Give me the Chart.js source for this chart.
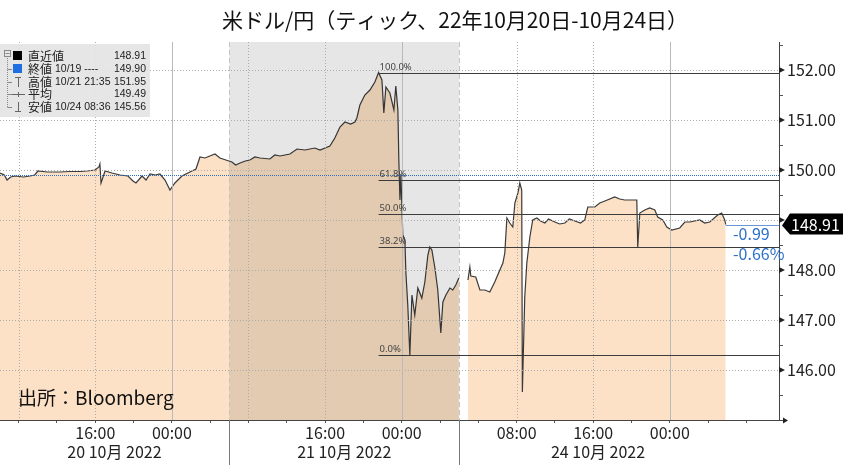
<!DOCTYPE html>
<html>
<head>
<meta charset="utf-8">
<script src="https://cdn.jsdelivr.net/npm/chart.js@4.4.1/dist/chart.umd.min.js"></script>
<style>
html, body { margin: 0; padding: 0; background: #fff; }
#wrap { width: 843px; height: 465px; }
</style>
</head>
<body>
<div id="wrap"><canvas id="fxChart"></canvas></div>
<script>
// ティックデータ（読み取り値）: 時刻と USD/JPY
const times = [
  '10/20 06:03', '10/20 06:30', '10/20 06:47', '10/20 07:10', '10/20 07:37', '10/20 08:30', '10/20 09:11', '10/20 09:40',
  '10/20 10:01', '10/20 11:00', '10/20 12:19', '10/20 13:20', '10/20 14:25', '10/20 15:10', '10/20 15:58', '10/20 16:23',
  '10/20 16:29', '10/20 16:36', '10/20 17:01', '10/20 17:45', '10/20 18:35', '10/20 19:25', '10/20 19:56', '10/20 20:15',
  '10/20 20:53', '10/20 21:18', '10/20 21:43', '10/20 22:15', '10/20 22:45', '10/20 23:17', '10/20 23:48', '10/21 00:19',
  '10/21 01:03', '10/21 01:53', '10/21 02:31', '10/21 02:56', '10/21 03:27', '10/21 03:58', '10/21 04:30', '10/21 05:01',
  '10/21 05:38', '10/21 06:16', '10/21 06:40', '10/21 07:07', '10/21 07:40', '10/21 08:09', '10/21 08:40', '10/21 09:12',
  '10/21 10:14', '10/21 10:45', '10/21 11:17', '10/21 12:20',
  '10/21 13:04', '10/21 13:54', '10/21 14:56', '10/21 15:28', '10/21 16:30', '10/21 17:01', '10/21 17:33', '10/21 18:04',
  '10/21 18:40', '10/21 19:07', '10/21 19:19', '10/21 19:38', '10/21 20:09', '10/21 20:41', '10/21 21:12', '10/21 21:35',
  '10/21 21:56', '10/21 22:08', '10/21 22:21', '10/21 22:46', '10/21 23:11', '10/21 23:23', '10/21 23:36', '10/21 23:42',
  '10/21 23:49', '10/21 23:55', '10/22 00:07', '10/22 00:20', '10/22 00:26', '10/22 00:38', '10/22 00:51', '10/22 01:04',
  '10/22 01:22', '10/22 01:41', '10/22 02:06', '10/22 02:25', '10/22 02:44', '10/22 02:56', '10/22 03:09', '10/22 03:28',
  '10/22 03:46', '10/22 04:05', '10/22 04:18', '10/22 04:37', '10/22 05:02', '10/22 05:20', '10/22 05:39', '10/22 05:58',
  '10/22 06:30',
  '10/24 02:55', '10/24 03:07', '10/24 03:13', '10/24 03:44', '10/24 04:10', '10/24 04:41', '10/24 05:12', '10/24 05:43',
  '10/24 06:15', '10/24 06:34', '10/24 06:46', '10/24 06:59', '10/24 07:17', '10/24 07:36', '10/24 07:49', '10/24 08:08',
  '10/24 08:20', '10/24 08:32', '10/24 08:36', '10/24 08:51', '10/24 09:04', '10/24 09:23', '10/24 09:41', '10/24 10:07',
  '10/24 10:30', '10/24 10:57', '10/24 11:20', '10/24 11:59', '10/24 12:30', '10/24 13:02', '10/24 13:30', '10/24 14:05',
  '10/24 14:40', '10/24 15:07', '10/24 15:26', '10/24 16:10', '10/24 16:41',
  '10/24 17:13', '10/24 18:15', '10/24 18:46', '10/24 19:17', '10/24 20:33', '10/24 20:39', '10/24 20:52', '10/24 21:23',
  '10/24 21:54', '10/24 22:26', '10/24 22:44', '10/24 23:16', '10/24 23:41', '10/25 00:12', '10/25 01:02', '10/25 01:34',
  '10/25 02:05', '10/25 03:07', '10/25 03:39', '10/25 04:10', '10/25 05:00', '10/25 05:25', '10/25 05:44', '10/25 05:50'
];
const prices = [
  149.94, 149.90, 149.80, 149.86, 149.88, 149.86, 149.88, 149.90,
  149.98, 149.96, 149.96, 149.97, 149.97, 149.98, 150.00, 150.06,
  150.12, 149.74, 149.98, 149.94, 149.90, 149.88, 149.78, 149.74,
  149.88, 149.80, 149.92, 149.90, 149.92, 149.80, 149.60, 149.74,
  149.88, 149.96, 150.02, 150.26, 150.24, 150.28, 150.32, 150.24,
  150.20, 150.16, 150.10, 150.14, 150.18, 150.20, 150.26, 150.24,
  150.22, 150.30, 150.28, 150.32,
  150.42, 150.40, 150.44, 150.40, 150.48, 150.64, 150.86, 150.96,
  150.92, 150.96, 151.04, 151.30, 151.50, 151.60, 151.76, 151.95,
  151.80, 151.14, 151.66, 151.54, 151.20, 151.68, 151.20, 150.20,
  149.40, 149.90, 148.70, 148.60, 147.96, 147.30, 146.30, 147.50,
  147.10, 147.64, 147.44, 147.76, 148.30, 148.46, 148.40, 148.04,
  147.60, 146.74, 147.36, 147.50, 147.64, 147.60, 147.70, 147.84,
  null,
  147.80, 148.06, 147.88, 147.86, 147.60, 147.60, 147.56, 147.76,
  148.00, 148.14, 148.34, 149.04, 148.94, 148.86, 149.34, 149.54,
  149.74, 149.60, 145.56, 147.46, 148.14, 148.66, 149.00, 149.04,
  148.98, 148.94, 149.02, 148.96, 148.92, 148.94, 149.02, 148.98,
  148.94, 149.00, 149.26, 149.26, 149.34,
  149.38, 149.46, 149.42, 149.40, 149.40, 148.46, 149.14, 149.20,
  149.24, 149.20, 149.06, 149.00, 148.86, 148.80, 148.84, 148.96,
  148.96, 149.00, 148.94, 148.96, 149.10, 149.14, 149.00, 148.91
];

// セッション（日付ラベルの範囲）
const dateLabels = ['20 10月 2022', '21 10月 2022', '24 10月 2022'];
const sessions = [['10/20 06:00', '10/21 06:00'], ['10/21 06:00', '10/22 06:00'], ['10/24 02:00', '10/25 07:00']];
const axisRange = ['10/20 06:03', '10/25 11:24'];

// 軸目盛り
const xLabelTimes = ['10/20 16:00', '10/21 00:00', '10/21 16:00', '10/22 00:00', '10/24 08:00', '10/24 16:00', '10/25 00:00'];
const xDottedTimes = ['10/20 08:00', '10/20 16:00', '10/21 08:00', '10/21 16:00', '10/24 08:00', '10/24 16:00'];
const xMidnightTimes = ['10/21 00:00', '10/22 00:00', '10/25 00:00'];
const yTickValues = [146, 147, 148, 149, 150, 151, 152];
const yRange = [145, 152.56];

// 統計・フィボナッチ
const lastPrice = 148.91;
const prevClose = 149.90;
const highPrice = 151.95, highTime = '10/21 21:35';
const lowPrice = 145.56, lowTime = '10/24 08:36';
const avgPrice = 149.49;
const fibLow = 146.30;
const fibLevels = [100, 61.8, 50, 38.2, 0];
const change = -0.99, changePct = -0.66;

// 週末を詰めた時間軸（時間単位）
function toAxisHour(s) {
  const [md, hm] = s.split(' ');
  const day = +md.split('/')[1];
  const [hh, mm] = hm.split(':').map(Number);
  const base = day >= 24 ? 52 + (day - 24) * 24 : (day - 20) * 24;
  return base + hh + mm / 60;
}

const points = times.map((t, i) => ({ x: toAxisHour(t), y: prices[i] }));
const labelMap = {};
xLabelTimes.forEach(t => { labelMap[toAxisHour(t)] = t.split(' ')[1]; });

const JP = '"Noto Sans CJK JP", "Noto Sans", sans-serif';

const overlay = {
  id: 'overlay',
  afterDatasetsDraw(chart) {
    const { ctx, chartArea: a, scales: { x, y } } = chart;
    ctx.save();
    // 21日の背景（グレー）
    const bx0 = x.getPixelForValue(toAxisHour(sessions[1][0]));
    const bx1 = x.getPixelForValue(toAxisHour(sessions[1][1]));
    ctx.globalCompositeOperation = 'multiply';
    ctx.fillStyle = '#e6e6e6';
    ctx.fillRect(bx0, a.top, bx1 - bx0, a.bottom - a.top);
    ctx.globalCompositeOperation = 'source-over';

    // グリッド
    ctx.lineWidth = 1;
    ctx.strokeStyle = '#ababab';
    ctx.setLineDash([1, 2]);
    yTickValues.forEach(v => {
      const py = Math.round(y.getPixelForValue(v)) + 0.5;
      ctx.beginPath(); ctx.moveTo(a.left, py); ctx.lineTo(a.right, py); ctx.stroke();
    });
    xDottedTimes.forEach(t => {
      const px = Math.round(x.getPixelForValue(toAxisHour(t))) + 0.5;
      ctx.beginPath(); ctx.moveTo(px, a.top); ctx.lineTo(px, a.bottom); ctx.stroke();
    });
    ctx.setLineDash([]);
    ctx.strokeStyle = '#b9b9b9';
    xMidnightTimes.forEach(t => {
      const px = Math.round(x.getPixelForValue(toAxisHour(t))) + 0.5;
      ctx.beginPath(); ctx.moveTo(px, a.top); ctx.lineTo(px, a.bottom); ctx.stroke();
    });
    // セッション境界（破線）
    ctx.strokeStyle = '#c4c4c4';
    ctx.setLineDash([5, 3]);
    [bx0, bx1].forEach(px => {
      px = Math.round(px) + 0.5;
      ctx.beginPath(); ctx.moveTo(px, a.top); ctx.lineTo(px, a.bottom); ctx.stroke();
    });
    // 前日終値
    ctx.strokeStyle = '#2f6dbb';
    ctx.setLineDash([1, 1]);
    const pc = Math.round(y.getPixelForValue(prevClose)) + 0.5;
    ctx.beginPath(); ctx.moveTo(a.left, pc); ctx.lineTo(a.right, pc); ctx.stroke();
    ctx.restore();
  },
  afterDraw(chart) {
    const { ctx, chartArea: a, scales: { x, y } } = chart;
    ctx.save();

    // フィボナッチ
    const fx = x.getPixelForValue(toAxisHour(highTime));
    ctx.strokeStyle = '#3c3c3c';
    ctx.lineWidth = 1;
    ctx.font = '9.5px "Noto Sans", sans-serif';
    ctx.fillStyle = '#444';
    ctx.textAlign = 'left';
    ctx.textBaseline = 'bottom';
    fibLevels.forEach(p => {
      const v = fibLow + (highPrice - fibLow) * p / 100;
      const py = Math.round(y.getPixelForValue(v)) + 0.5;
      ctx.beginPath(); ctx.moveTo(fx, py); ctx.lineTo(a.right, py); ctx.stroke();
      ctx.fillText(p.toFixed(1) + '%', fx + 1, py - 1);
    });

    // 軸線
    ctx.strokeStyle = '#444';
    ctx.beginPath();
    ctx.moveTo(a.right + 0.5, a.top); ctx.lineTo(a.right + 0.5, a.bottom);
    ctx.moveTo(0, a.bottom + 0.5); ctx.lineTo(a.right + 5, a.bottom + 0.5);
    ctx.stroke();
    ctx.fillStyle = '#222';
    ctx.beginPath();
    ctx.moveTo(a.right + 4, a.bottom - 2.5); ctx.lineTo(a.right + 9, a.bottom + 0.5); ctx.lineTo(a.right + 4, a.bottom + 3.5);
    ctx.fill();
    yTickValues.forEach(v => {
      const py = y.getPixelForValue(v);
      ctx.beginPath();
      ctx.moveTo(a.right, py - 3); ctx.lineTo(a.right + 6, py); ctx.lineTo(a.right, py + 3);
      ctx.fill();
    });

    // 日付区切り・日付ラベル
    ctx.strokeStyle = '#777';
    [sessions[1][0], sessions[2][0]].forEach(t => {
      const px = Math.round(x.getPixelForValue(toAxisHour(t))) + 0.5;
      ctx.beginPath(); ctx.moveTo(px, a.bottom); ctx.lineTo(px, chart.height); ctx.stroke();
    });
    ctx.font = '16px ' + JP;
    ctx.fillStyle = '#222';
    ctx.textAlign = 'center';
    ctx.textBaseline = 'middle';
    dateLabels.forEach((lab, i) => {
      const c = (toAxisHour(sessions[i][0]) + toAxisHour(sessions[i][1])) / 2;
      ctx.fillText(lab, x.getPixelForValue(c), 452);
    });

    // タイトル
    ctx.font = '21px ' + JP;
    ctx.fillStyle = '#111';
    ctx.fillText('米ドル/円（ティック、22年10月20日-10月24日）', 455, 20);

    // 出所
    ctx.font = '19px ' + JP;
    ctx.textAlign = 'left';
    ctx.fillText('出所：Bloomberg', 18, 398);

    // 現在値ライン・タグ
    const lastX = x.getPixelForValue(toAxisHour(times[times.length - 1]));
    const ly = Math.round(y.getPixelForValue(lastPrice)) + 0.5;
    ctx.strokeStyle = '#6b98d4';
    ctx.beginPath(); ctx.moveTo(lastX, ly); ctx.lineTo(a.right, ly); ctx.stroke();
    ctx.fillStyle = '#000';
    ctx.beginPath();
    ctx.moveTo(a.right + 3, ly); ctx.lineTo(a.right + 11, ly - 12); ctx.lineTo(chart.width, ly - 12);
    ctx.lineTo(chart.width, ly + 9); ctx.lineTo(a.right + 11, ly + 9);
    ctx.closePath(); ctx.fill();
    ctx.fillStyle = '#fff';
    ctx.font = '16px ' + JP;
    ctx.fillText(lastPrice.toFixed(2), a.right + 12, ly - 1);
    ctx.fillStyle = '#2b6fcb';
    ctx.fillText(change.toFixed(2), 733, 234);
    ctx.fillText(changePct.toFixed(2) + '%', 733, 254);

    // 凡例ボックス
    ctx.fillStyle = 'rgba(228,228,228,0.92)';
    ctx.fillRect(0, 44, 150, 73);
    const rows = [
      ['直近値', '', lastPrice],
      ['終値', '10/19 ----', prevClose],
      ['高値', highTime, highPrice],
      ['平均', '', avgPrice],
      ['安値', lowTime, lowPrice]
    ];
    const rowY = [56, 69, 82, 94, 107];
    ctx.strokeStyle = '#888';
    ctx.setLineDash([1, 1]);
    ctx.beginPath(); ctx.moveTo(7.5, 58); ctx.lineTo(7.5, rowY[4]); ctx.stroke();
    ctx.setLineDash([]);
    ctx.strokeRect(4.5, 50.5, 6, 6);
    ctx.beginPath(); ctx.moveTo(5.5, 53.5); ctx.lineTo(9.5, 53.5); ctx.stroke();
    rowY.slice(1).forEach(ry => {
      ctx.beginPath(); ctx.moveTo(7.5, ry + 0.5); ctx.lineTo(12, ry + 0.5); ctx.stroke();
    });
    ctx.fillStyle = '#000';
    ctx.fillRect(13, 51, 9, 9);
    ctx.fillStyle = '#1f6fe0';
    ctx.fillRect(13, 64, 9, 9);
    ctx.strokeStyle = '#666';
    ctx.beginPath();
    ctx.moveTo(15, 77.5); ctx.lineTo(21, 77.5); ctx.moveTo(18.5, 77.5); ctx.lineTo(18.5, 87);
    ctx.moveTo(12, 94.5); ctx.lineTo(25, 94.5); ctx.moveTo(18.5, 92); ctx.lineTo(18.5, 97);
    ctx.moveTo(18.5, 102); ctx.lineTo(18.5, 111.5); ctx.moveTo(15, 111.5); ctx.lineTo(21, 111.5);
    ctx.stroke();
    ctx.fillStyle = '#222';
    rows.forEach((r, i) => {
      ctx.textAlign = 'left';
      ctx.font = '12px ' + JP;
      ctx.fillText(r[0], 28, rowY[i]);
      ctx.font = '10.5px "Liberation Sans", sans-serif';
      ctx.fillText(r[1], 55, rowY[i]);
      ctx.textAlign = 'right';
      ctx.fillText(r[2].toFixed(2), 146, rowY[i]);
    });
    ctx.restore();
  }
};

new Chart(document.getElementById('fxChart'), {
  type: 'line',
  data: {
    datasets: [{
      data: points,
      borderColor: '#3a3a3a',
      borderWidth: 1.2,
      backgroundColor: '#fce1c6',
      fill: 'start',
      pointRadius: 0,
      tension: 0,
      spanGaps: false
    }]
  },
  options: {
    responsive: true,
    maintainAspectRatio: false,
    animation: false,
    layout: { padding: { top: 42, left: 0, right: 0, bottom: 0 } },
    plugins: { legend: { display: false }, title: { display: false }, tooltip: { enabled: false } },
    scales: {
      x: {
        type: 'linear',
        min: toAxisHour(axisRange[0]),
        max: toAxisHour(axisRange[1]),
        afterBuildTicks(scale) {
          const ticks = [];
          for (let h = 8; h <= 84; h += 4) ticks.push({ value: h });
          scale.ticks = ticks;
        },
        afterFit(scale) { scale.height = 45; },
        border: { display: false },
        grid: { drawOnChartArea: false, drawTicks: true, tickLength: 3, tickColor: '#555' },
        ticks: {
          autoSkip: false, maxRotation: 0, padding: 0,
          color: '#222', font: { family: JP, size: 16 },
          callback: v => labelMap[v] || ''
        }
      },
      y: {
        position: 'right',
        min: yRange[0],
        max: yRange[1],
        afterBuildTicks(scale) {
          const ticks = [];
          for (let i = 1; i <= 15; i++) ticks.push({ value: yRange[0] + i * 0.5 });
          scale.ticks = ticks;
        },
        afterFit(scale) { scale.width = 64; },
        border: { display: false },
        grid: { drawOnChartArea: false, drawTicks: true, tickLength: 4, tickColor: '#555' },
        ticks: {
          padding: 4,
          color: '#222', font: { family: JP, size: 16 },
          callback: v => Number.isInteger(v) ? v.toFixed(2) : ''
        }
      }
    }
  },
  plugins: [overlay]
});
</script>
</body>
</html>
